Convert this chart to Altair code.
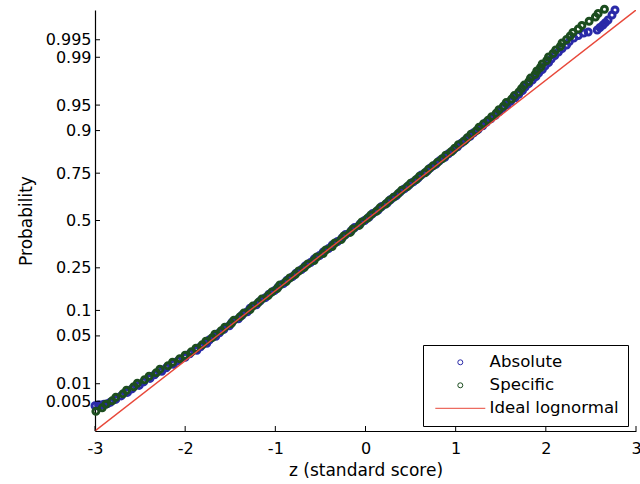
import altair as alt
import pandas as pd
from statistics import NormalDist

# ---- data (x = z score, y = normal quantile of probability) ----
abs_x = [-3.00, -2.96, -2.93, -2.90, -2.86, -2.83,
         -2.77, -2.71, -2.64, -2.59, -2.51, -2.46, -2.39, -2.34, -2.26, -2.21, -2.13, -2.08,
         -2.00, -1.95, -1.87, -1.83, -1.76, -1.73, -1.66, -1.62, -1.57, -1.51, -1.48, -1.41,
         -1.37, -1.31, -1.28, -1.21, -1.17, -1.11, -1.07, -1.01, -0.97, -0.91, -0.87, -0.81,
         -0.77, -0.71, -0.67, -0.61, -0.57, -0.51, -0.47, -0.41, -0.37, -0.31, -0.26, -0.22,
         -0.16, -0.12, -0.06, -0.01, 0.04, 0.08, 0.14, 0.18, 0.24, 0.28, 0.34, 0.38, 0.43,
         0.48, 0.53, 0.58, 0.62, 0.68, 0.72, 0.78, 0.82, 0.88, 0.92, 0.97, 1.02, 1.06, 1.11,
         1.16, 1.20, 1.25, 1.30, 1.34, 1.39, 1.44, 1.48, 1.52, 1.57, 1.61, 1.66, 1.70, 1.74,
         1.77, 1.81, 1.85, 1.89, 1.92, 1.96, 1.99, 2.03, 2.06, 2.10, 2.14, 2.18, 2.23, 2.26,
         2.31, 2.36, 2.42, 2.47, 2.57, 2.60, 2.634, 2.66, 2.69, 2.734, 2.767]
abs_y = [-2.64, -2.63, -2.63, -2.62, -2.61, -2.59,
         -2.55, -2.50, -2.45, -2.40, -2.35, -2.30, -2.25, -2.20, -2.15, -2.10, -2.05, -2.00,
         -1.95, -1.90, -1.85, -1.80, -1.75, -1.70, -1.65, -1.60, -1.55, -1.50, -1.45, -1.40,
         -1.35, -1.30, -1.25, -1.20, -1.15, -1.10, -1.05, -1.00, -0.95, -0.90, -0.85, -0.80,
         -0.75, -0.70, -0.65, -0.60, -0.55, -0.50, -0.45, -0.40, -0.35, -0.30, -0.25, -0.20,
         -0.15, -0.10, -0.05, 0.00, 0.05, 0.10, 0.15, 0.20, 0.25, 0.30, 0.35, 0.40, 0.45,
         0.50, 0.55, 0.60, 0.65, 0.70, 0.75, 0.80, 0.85, 0.90, 0.95, 1.00, 1.05, 1.10, 1.15,
         1.20, 1.25, 1.30, 1.35, 1.40, 1.45, 1.50, 1.55, 1.60, 1.65, 1.70, 1.75, 1.80, 1.85,
         1.90, 1.95, 2.00, 2.05, 2.10, 2.15, 2.20, 2.25, 2.30, 2.35, 2.40, 2.45, 2.50, 2.55,
         2.60, 2.635, 2.672, 2.686, 2.715, 2.75, 2.786, 2.82, 2.857, 2.928, 3.00]

spec_x = [-2.99, -2.92, -2.88, -2.81, -2.77, -2.69, -2.65, -2.57, -2.53, -2.45, -2.40, -2.32,
          -2.28, -2.19, -2.14, -2.06, -2.00, -1.93, -1.88, -1.81, -1.77, -1.70, -1.67, -1.60,
          -1.56, -1.49, -1.46, -1.39, -1.35, -1.28, -1.25, -1.19, -1.15, -1.08, -1.04, -0.98,
          -0.95, -0.88, -0.84, -0.78, -0.74, -0.68, -0.64, -0.57, -0.54, -0.47, -0.44, -0.37,
          -0.34, -0.27, -0.24, -0.17, -0.14, -0.07, -0.04, 0.02, 0.06, 0.12, 0.16, 0.22, 0.26,
          0.31, 0.36, 0.40, 0.46, 0.50, 0.56, 0.60, 0.66, 0.70, 0.75, 0.80, 0.85, 0.89, 0.95,
          0.99, 1.03, 1.09, 1.13, 1.17, 1.23, 1.26, 1.31, 1.36, 1.40, 1.45, 1.48, 1.53, 1.56,
          1.62, 1.65, 1.70, 1.73, 1.76, 1.81, 1.83, 1.88, 1.90, 1.94, 1.96, 2.01, 2.03, 2.08,
          2.11, 2.16, 2.18, 2.23, 2.27, 2.30, 2.36, 2.40, 2.48, 2.55, 2.58, 2.65]
spec_y = [-2.72, -2.67, -2.62, -2.57, -2.52, -2.47, -2.42, -2.37, -2.32, -2.27, -2.22, -2.17,
          -2.12, -2.07, -2.02, -1.97, -1.92, -1.87, -1.82, -1.77, -1.72, -1.67, -1.62, -1.57,
          -1.52, -1.47, -1.42, -1.37, -1.32, -1.27, -1.22, -1.17, -1.12, -1.07, -1.02, -0.97,
          -0.92, -0.87, -0.82, -0.77, -0.72, -0.67, -0.62, -0.57, -0.52, -0.47, -0.42, -0.37,
          -0.32, -0.27, -0.22, -0.17, -0.12, -0.07, -0.02, 0.03, 0.08, 0.13, 0.18, 0.23, 0.28,
          0.33, 0.38, 0.43, 0.48, 0.53, 0.58, 0.63, 0.68, 0.73, 0.78, 0.83, 0.88, 0.93, 0.98,
          1.03, 1.08, 1.13, 1.18, 1.23, 1.28, 1.33, 1.38, 1.43, 1.48, 1.53, 1.58, 1.63, 1.68,
          1.73, 1.78, 1.83, 1.88, 1.93, 1.98, 2.03, 2.08, 2.13, 2.18, 2.23, 2.28, 2.33, 2.38,
          2.43, 2.48, 2.53, 2.58, 2.63, 2.68, 2.73, 2.78, 2.84, 2.90, 2.95, 3.01]

ideal_x = [-3, 3]
ideal_y = [-3, 3]

series = ["Absolute", "Specific", "Ideal lognormal"]
colors = ["#2a2aa8", "#1c4d1f", "#e8483a"]

prob_ticks = [0.005, 0.01, 0.05, 0.1, 0.25, 0.5, 0.75, 0.9, 0.95, 0.99, 0.995]
prob_labels = ["0.005", "0.01", "0.05", "0.1", "0.25", "0.5", "0.75", "0.9", "0.95", "0.99", "0.995"]
z_ticks = [-3, -2, -1, 0, 1, 2, 3]

# ---- build tables ----
pts = pd.concat([
    pd.DataFrame({"z": abs_x, "q": abs_y, "series": series[0]}),
    pd.DataFrame({"z": spec_x, "q": spec_y, "series": series[1]}),
], ignore_index=True)
pts["order"] = range(len(pts))
ideal = pd.DataFrame({"z": ideal_x, "q": ideal_y, "series": series[2]})

nd = NormalDist()
ytick_pos = [nd.inv_cdf(p) for p in prob_ticks]
yt = pd.DataFrame({"q": ytick_pos})
xt = pd.DataFrame({"z": z_ticks})

# label expression mapping probit positions back to probability labels
expr = f"'{prob_labels[-1]}'"
for i in range(len(prob_labels) - 2, -1, -1):
    mid = (ytick_pos[i] + ytick_pos[i + 1]) / 2
    expr = f"datum.value < {mid:.5f} ? '{prob_labels[i]}' : ({expr})"
xexpr = "datum.value < 0 ? '-' + abs(datum.value) : '' + datum.value"

W, H = 541, 421
FONT = "DejaVu Sans"
xs = alt.Scale(domain=[-3, 3], nice=False, zero=False)
ys = alt.Scale(domain=[-3, 3], nice=False, zero=False)

legend = alt.Legend(
    title=None, orient="none", legendX=328, legendY=335,
    strokeColor="black", fillColor="white", padding=9, rowPadding=6,
    labelFont=FONT, labelFontSize=16.6, labelColor="black",
    symbolSize=25, symbolStrokeWidth=1, labelOffset=21, symbolOffset=20,
)
color = alt.Color("series:N", scale=alt.Scale(domain=series, range=colors), legend=legend)
shape = alt.Shape("series:N", scale=alt.Scale(domain=series, range=["circle", "circle", "M-10,0H10"]),
                  legend=legend)

common_axis = dict(tickSize=0, grid=False, domainColor="black", labelColor="black",
                   labelFont=FONT, labelFontSize=16, titleFont=FONT, titleFontSize=17,
                   titleFontWeight="normal", titleColor="black", domainWidth=1.2,
                   labelFlush=False, labelOverlap=False)

points = alt.Chart(pts).mark_point(filled=False, size=36, strokeWidth=3, opacity=1).encode(
    x=alt.X("z:Q", scale=xs, axis=alt.Axis(
        values=z_ticks, labelExpr=xexpr, title="z (standard score)", labelPadding=9,
        titlePadding=6, **common_axis)),
    y=alt.Y("q:Q", scale=ys, axis=alt.Axis(
        values=ytick_pos, labelExpr=expr, title="Probability", labelPadding=4,
        titlePadding=10, **common_axis)),
    color=color,
    shape=shape,
    order="order:Q",
)

line = alt.Chart(ideal).mark_line(strokeWidth=1.4, clip=True).encode(
    x=alt.X("z:Q", scale=xs),
    y=alt.Y("q:Q", scale=ys),
    color=color,
)

yticks = alt.Chart(yt).mark_rule(color="black", strokeWidth=1).encode(
    y=alt.Y("q:Q", scale=ys), x=alt.value(0), x2=alt.value(5))
xticks = alt.Chart(xt).mark_rule(color="black", strokeWidth=1).encode(
    x=alt.X("z:Q", scale=xs), y=alt.value(H), y2=alt.value(H - 5))

chart = alt.layer(points, line, yticks, xticks).properties(
    width=W, height=H,
    autosize=alt.AutoSizeParams(type="none"),
    padding={"left": 95, "top": 10, "right": 4, "bottom": 53},
    background="white",
).configure_view(stroke=None)

chart.save("out.html", embed_options={"renderer": "svg", "actions": False})
